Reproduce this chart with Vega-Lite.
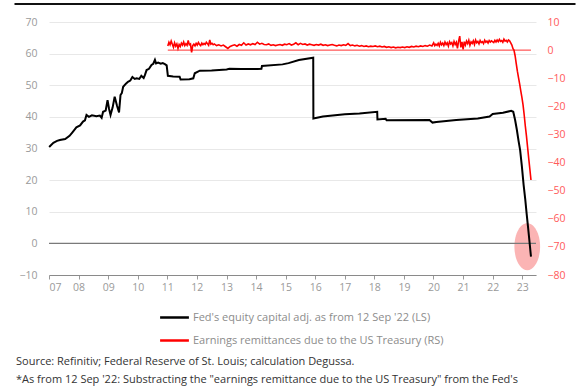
{
  "$schema": "https://vega.github.io/schema/vega-lite/v6.json",
  "width": 487,
  "height": 253,
  "autosize": {"type": "none"},
  "padding": {"left": 49, "top": 22, "right": 49, "bottom": 115},
  "background": "white",
  "config": {
    "view": {"stroke": null},
    "font": "Open Sans",
    "axis": {"labelFont": "Open Sans", "labelFontSize": 10.5},
    "legend": {"labelFont": "Open Sans"}
  },
  "title": {
    "text": ["Source: Refinitiv; Federal Reserve of St. Louis; calculation Degussa.", "*As from 12 Sep '22: Substracting the \"earnings remittance due to the US Treasury\" from the Fed's", "equity capital."],
    "orient": "bottom",
    "anchor": "start",
    "frame": "group",
    "dx": -33,
    "offset": 10,
    "font": "Open Sans",
    "fontSize": 11,
    "fontWeight": "normal",
    "color": "#333333",
    "lineHeight": 17.5
  },
  "datasets": {
    "black": [
      {"date": "2007-01-03", "value": 30.5}, {"date": "2007-02-24", "value": 31.8}, {"date": "2007-04-10", "value": 32.4}, {"date": "2007-05-15", "value": 32.7},
      {"date": "2007-07-20", "value": 33.0}, {"date": "2007-09-12", "value": 34.0}, {"date": "2007-10-20", "value": 35.2}, {"date": "2007-12-05", "value": 36.7},
      {"date": "2008-01-20", "value": 37.3}, {"date": "2008-02-25", "value": 38.5}, {"date": "2008-03-20", "value": 38.9}, {"date": "2008-04-08", "value": 40.6},
      {"date": "2008-05-08", "value": 40.0}, {"date": "2008-06-14", "value": 40.5}, {"date": "2008-08-08", "value": 40.2}, {"date": "2008-09-20", "value": 40.4},
      {"date": "2008-10-12", "value": 39.7}, {"date": "2008-10-30", "value": 41.6}, {"date": "2008-12-01", "value": 42.0}, {"date": "2008-12-24", "value": 45.3},
      {"date": "2009-01-12", "value": 42.5}, {"date": "2009-01-30", "value": 40.6}, {"date": "2009-02-25", "value": 43.0}, {"date": "2009-03-22", "value": 46.4},
      {"date": "2009-04-20", "value": 43.5}, {"date": "2009-05-15", "value": 41.4}, {"date": "2009-06-02", "value": 46.9}, {"date": "2009-06-18", "value": 47.5},
      {"date": "2009-07-05", "value": 49.5}, {"date": "2009-08-08", "value": 50.5}, {"date": "2009-09-02", "value": 51.1}, {"date": "2009-10-01", "value": 51.5},
      {"date": "2009-10-27", "value": 52.6}, {"date": "2009-11-25", "value": 52.0}, {"date": "2009-12-18", "value": 52.2}, {"date": "2010-01-20", "value": 52.0},
      {"date": "2010-02-14", "value": 53.0}, {"date": "2010-03-15", "value": 52.3}, {"date": "2010-03-30", "value": 53.2}, {"date": "2010-04-20", "value": 54.8},
      {"date": "2010-05-20", "value": 55.2}, {"date": "2010-06-20", "value": 56.4}, {"date": "2010-07-12", "value": 56.8}, {"date": "2010-08-01", "value": 58.0},
      {"date": "2010-08-15", "value": 56.9}, {"date": "2010-09-10", "value": 57.2}, {"date": "2010-10-12", "value": 56.8}, {"date": "2010-11-06", "value": 57.0},
      {"date": "2010-12-02", "value": 56.7}, {"date": "2010-12-24", "value": 56.3}, {"date": "2011-01-08", "value": 53.0}, {"date": "2011-03-14", "value": 52.8},
      {"date": "2011-06-02", "value": 52.7}, {"date": "2011-06-14", "value": 51.8}, {"date": "2011-10-01", "value": 51.9}, {"date": "2011-11-18", "value": 52.2},
      {"date": "2011-12-06", "value": 53.8}, {"date": "2012-02-06", "value": 54.6}, {"date": "2012-07-01", "value": 54.7}, {"date": "2013-01-02", "value": 55.0},
      {"date": "2013-02-06", "value": 55.2}, {"date": "2013-07-01", "value": 55.1}, {"date": "2014-01-20", "value": 55.1}, {"date": "2014-03-08", "value": 55.2},
      {"date": "2014-03-15", "value": 56.1}, {"date": "2014-11-24", "value": 56.6}, {"date": "2015-02-06", "value": 57.0}, {"date": "2015-06-14", "value": 58.0},
      {"date": "2015-12-08", "value": 58.7}, {"date": "2015-12-10", "value": 39.5}, {"date": "2016-04-05", "value": 40.1}, {"date": "2017-01-01", "value": 40.8},
      {"date": "2017-07-01", "value": 41.1}, {"date": "2018-02-05", "value": 41.6}, {"date": "2018-02-08", "value": 39.2}, {"date": "2018-05-20", "value": 39.4},
      {"date": "2018-06-01", "value": 38.9}, {"date": "2019-11-12", "value": 39.0}, {"date": "2019-12-20", "value": 38.2}, {"date": "2020-02-05", "value": 38.4},
      {"date": "2020-10-08", "value": 39.0}, {"date": "2021-07-01", "value": 39.5}, {"date": "2021-11-24", "value": 40.1}, {"date": "2022-01-01", "value": 40.9},
      {"date": "2022-05-08", "value": 41.3}, {"date": "2022-08-18", "value": 41.9}, {"date": "2022-09-12", "value": 41.6}, {"date": "2022-10-05", "value": 39.0},
      {"date": "2022-10-26", "value": 36.0}, {"date": "2022-11-16", "value": 32.5}, {"date": "2022-12-06", "value": 29.5}, {"date": "2022-12-27", "value": 24.5},
      {"date": "2023-01-18", "value": 18.5}, {"date": "2023-02-07", "value": 14.0}, {"date": "2023-02-24", "value": 9.5}, {"date": "2023-03-15", "value": 4.8},
      {"date": "2023-04-01", "value": 0.5}, {"date": "2023-04-19", "value": -4.2}
    ],
    "red": [
      {"date": "2011-01-07", "value": 1.5}, {"date": "2011-01-21", "value": 2.8}, {"date": "2011-02-04", "value": 1.9}, {"date": "2011-02-18", "value": 3.2},
      {"date": "2011-03-04", "value": 2.1}, {"date": "2011-03-18", "value": 1.0}, {"date": "2011-04-01", "value": 2.6}, {"date": "2011-04-15", "value": 1.4},
      {"date": "2011-04-29", "value": 2.2}, {"date": "2011-05-13", "value": 0.6}, {"date": "2011-05-27", "value": 2.0}, {"date": "2011-06-10", "value": 1.3},
      {"date": "2011-06-24", "value": 2.5}, {"date": "2011-07-08", "value": 1.8}, {"date": "2011-07-22", "value": 2.9}, {"date": "2011-08-05", "value": 1.6},
      {"date": "2011-08-19", "value": 2.3}, {"date": "2011-09-02", "value": 1.7}, {"date": "2011-09-16", "value": 3.4}, {"date": "2011-09-30", "value": 1.9},
      {"date": "2011-10-14", "value": 2.2}, {"date": "2011-10-28", "value": -0.8}, {"date": "2011-11-11", "value": 1.6}, {"date": "2011-11-25", "value": 2.1},
      {"date": "2011-12-09", "value": 1.5}, {"date": "2011-12-23", "value": 2.4},
      {"date": "2012-01-06", "value": 1.8}, {"date": "2012-01-20", "value": 2.7}, {"date": "2012-02-03", "value": 2.0}, {"date": "2012-02-17", "value": 1.6},
      {"date": "2012-03-02", "value": 2.5}, {"date": "2012-03-16", "value": 1.9}, {"date": "2012-03-30", "value": 2.4}, {"date": "2012-04-13", "value": 2.0},
      {"date": "2012-04-27", "value": 2.8}, {"date": "2012-05-11", "value": 2.3}, {"date": "2012-05-25", "value": 1.7}, {"date": "2012-06-08", "value": 3.6},
      {"date": "2012-06-22", "value": 2.1}, {"date": "2012-07-06", "value": 2.4}, {"date": "2012-07-20", "value": 1.9}, {"date": "2012-08-03", "value": 2.2},
      {"date": "2012-08-31", "value": 1.6}, {"date": "2012-09-28", "value": 1.9}, {"date": "2012-10-26", "value": 1.5}, {"date": "2012-11-23", "value": 1.8},
      {"date": "2012-12-21", "value": 1.2},
      {"date": "2013-01-18", "value": 0.6}, {"date": "2013-02-15", "value": 1.3}, {"date": "2013-03-15", "value": 1.6}, {"date": "2013-04-12", "value": 1.9},
      {"date": "2013-05-10", "value": 1.4}, {"date": "2013-06-07", "value": 2.0}, {"date": "2013-07-05", "value": 1.7}, {"date": "2013-08-02", "value": 2.6},
      {"date": "2013-08-30", "value": 1.8}, {"date": "2013-09-27", "value": 2.2}, {"date": "2013-10-25", "value": 1.9}, {"date": "2013-11-22", "value": 2.3},
      {"date": "2013-12-20", "value": 2.0},
      {"date": "2014-01-17", "value": 2.8}, {"date": "2014-02-14", "value": 2.1}, {"date": "2014-03-14", "value": 2.4}, {"date": "2014-04-11", "value": 2.0},
      {"date": "2014-05-09", "value": 1.9}, {"date": "2014-06-06", "value": 2.2}, {"date": "2014-07-04", "value": 1.7}, {"date": "2014-08-01", "value": 1.9},
      {"date": "2014-08-29", "value": 1.6}, {"date": "2014-09-26", "value": 1.8}, {"date": "2014-10-24", "value": 2.0}, {"date": "2014-11-21", "value": 1.7},
      {"date": "2014-12-19", "value": 2.1},
      {"date": "2015-01-16", "value": 1.9}, {"date": "2015-02-13", "value": 2.3}, {"date": "2015-03-13", "value": 1.8}, {"date": "2015-04-10", "value": 2.1},
      {"date": "2015-05-08", "value": 2.6}, {"date": "2015-06-05", "value": 1.9}, {"date": "2015-07-03", "value": 2.4}, {"date": "2015-07-31", "value": 2.0},
      {"date": "2015-08-28", "value": 2.2}, {"date": "2015-09-25", "value": 1.8}, {"date": "2015-10-23", "value": 2.1}, {"date": "2015-11-20", "value": 1.9},
      {"date": "2015-12-18", "value": 1.7},
      {"date": "2016-01-15", "value": 2.0}, {"date": "2016-02-12", "value": 1.8}, {"date": "2016-03-11", "value": 2.1}, {"date": "2016-04-08", "value": 1.7},
      {"date": "2016-05-06", "value": 1.9}, {"date": "2016-06-03", "value": 1.6}, {"date": "2016-07-01", "value": 1.8}, {"date": "2016-07-29", "value": 2.0},
      {"date": "2016-08-26", "value": 1.7}, {"date": "2016-09-23", "value": 1.5}, {"date": "2016-10-21", "value": 1.8}, {"date": "2016-11-18", "value": 1.6},
      {"date": "2016-12-16", "value": 1.9},
      {"date": "2017-01-13", "value": 1.7}, {"date": "2017-02-10", "value": 2.3}, {"date": "2017-03-10", "value": 1.6}, {"date": "2017-04-07", "value": 1.8},
      {"date": "2017-05-05", "value": 1.5}, {"date": "2017-06-02", "value": 1.7}, {"date": "2017-06-30", "value": 1.4}, {"date": "2017-07-28", "value": 1.6},
      {"date": "2017-08-25", "value": 1.3}, {"date": "2017-09-22", "value": 1.5}, {"date": "2017-10-20", "value": 1.2}, {"date": "2017-11-17", "value": 1.4},
      {"date": "2017-12-15", "value": 1.3},
      {"date": "2018-01-12", "value": 1.5}, {"date": "2018-02-09", "value": 1.2}, {"date": "2018-03-09", "value": 1.4}, {"date": "2018-04-06", "value": 1.1},
      {"date": "2018-05-04", "value": 1.3}, {"date": "2018-06-01", "value": 1.0}, {"date": "2018-06-29", "value": 1.2}, {"date": "2018-07-27", "value": 0.9},
      {"date": "2018-08-24", "value": 1.1}, {"date": "2018-09-21", "value": 0.8}, {"date": "2018-10-19", "value": 1.0}, {"date": "2018-11-16", "value": 0.9},
      {"date": "2018-12-14", "value": 1.1},
      {"date": "2019-01-11", "value": 0.9}, {"date": "2019-02-08", "value": 1.2}, {"date": "2019-03-08", "value": 1.0}, {"date": "2019-04-05", "value": 1.3},
      {"date": "2019-05-03", "value": 1.1}, {"date": "2019-05-31", "value": 1.4}, {"date": "2019-06-28", "value": 1.2}, {"date": "2019-07-26", "value": 1.5},
      {"date": "2019-08-23", "value": 1.3}, {"date": "2019-09-20", "value": 1.6}, {"date": "2019-10-18", "value": 1.4}, {"date": "2019-11-15", "value": 1.8},
      {"date": "2019-12-13", "value": 1.5},
      {"date": "2020-01-03", "value": 2.6}, {"date": "2020-01-17", "value": 1.6}, {"date": "2020-01-31", "value": 2.1}, {"date": "2020-02-14", "value": 1.7},
      {"date": "2020-02-28", "value": 2.4}, {"date": "2020-03-13", "value": 1.5}, {"date": "2020-03-27", "value": 2.8}, {"date": "2020-04-10", "value": 1.9},
      {"date": "2020-04-24", "value": 2.5}, {"date": "2020-05-08", "value": 1.6}, {"date": "2020-05-22", "value": 2.9}, {"date": "2020-06-05", "value": 2.0},
      {"date": "2020-06-19", "value": 2.6}, {"date": "2020-07-03", "value": 1.4}, {"date": "2020-07-17", "value": 3.0}, {"date": "2020-07-31", "value": 2.2},
      {"date": "2020-08-14", "value": 2.7}, {"date": "2020-08-28", "value": 1.5}, {"date": "2020-09-11", "value": 3.1}, {"date": "2020-09-25", "value": 2.0},
      {"date": "2020-10-09", "value": 2.8}, {"date": "2020-10-23", "value": 0.6}, {"date": "2020-11-06", "value": 3.2}, {"date": "2020-11-20", "value": 5.0},
      {"date": "2020-12-04", "value": 1.0}, {"date": "2020-12-18", "value": 2.9},
      {"date": "2021-01-01", "value": 0.3}, {"date": "2021-01-15", "value": 3.0}, {"date": "2021-01-29", "value": 1.8}, {"date": "2021-02-12", "value": 3.2},
      {"date": "2021-02-26", "value": 2.3}, {"date": "2021-03-12", "value": 3.5}, {"date": "2021-03-26", "value": 1.7}, {"date": "2021-04-09", "value": 2.9},
      {"date": "2021-04-23", "value": 2.4}, {"date": "2021-05-07", "value": 3.3}, {"date": "2021-05-21", "value": 2.0}, {"date": "2021-06-04", "value": 3.6},
      {"date": "2021-06-18", "value": 2.6}, {"date": "2021-07-02", "value": 3.1}, {"date": "2021-07-16", "value": 2.2}, {"date": "2021-07-30", "value": 3.4},
      {"date": "2021-08-13", "value": 2.7}, {"date": "2021-08-27", "value": 3.0}, {"date": "2021-09-10", "value": 2.3}, {"date": "2021-09-24", "value": 3.5},
      {"date": "2021-10-08", "value": 2.8}, {"date": "2021-10-22", "value": 3.2}, {"date": "2021-11-05", "value": 2.5}, {"date": "2021-11-19", "value": 3.4},
      {"date": "2021-12-03", "value": 2.9}, {"date": "2021-12-17", "value": 3.3},
      {"date": "2022-01-14", "value": 2.7}, {"date": "2022-01-28", "value": 3.5}, {"date": "2022-02-11", "value": 2.9}, {"date": "2022-02-25", "value": 3.6},
      {"date": "2022-03-11", "value": 3.0}, {"date": "2022-03-25", "value": 3.8}, {"date": "2022-04-08", "value": 3.1}, {"date": "2022-04-22", "value": 3.4},
      {"date": "2022-05-06", "value": 2.8}, {"date": "2022-05-20", "value": 3.9}, {"date": "2022-06-03", "value": 3.2}, {"date": "2022-06-17", "value": 3.5},
      {"date": "2022-07-01", "value": 2.9}, {"date": "2022-07-15", "value": 3.6}, {"date": "2022-07-29", "value": 3.3}, {"date": "2022-08-12", "value": 2.6},
      {"date": "2022-08-26", "value": 1.8}, {"date": "2022-09-09", "value": 0.5}, {"date": "2022-09-21", "value": 0.0}, {"date": "2022-10-05", "value": -2.0},
      {"date": "2022-10-19", "value": -4.8}, {"date": "2022-11-02", "value": -7.5}, {"date": "2022-11-16", "value": -9.8}, {"date": "2022-11-30", "value": -12.0},
      {"date": "2022-12-14", "value": -14.5}, {"date": "2022-12-28", "value": -16.8}, {"date": "2023-01-11", "value": -19.5}, {"date": "2023-01-25", "value": -23.0},
      {"date": "2023-02-08", "value": -27.0}, {"date": "2023-02-22", "value": -30.5}, {"date": "2023-03-08", "value": -34.5}, {"date": "2023-03-22", "value": -38.5},
      {"date": "2023-04-05", "value": -42.3}, {"date": "2023-04-19", "value": -46.2}
    ],
    "highlight": [{"date": "2023-03-04", "value": -1.05}]
  },
  "layer": [
    {
      "layer": [
        {
          "data": {"name": "highlight"},
          "mark": {"type": "point", "filled": true, "shape": "M -0.547 0 A 0.547 1 0 1 0 0.547 0 A 0.547 1 0 1 0 -0.547 0 Z", "size": 2209, "fill": "#fbb4b4", "opacity": 1, "strokeWidth": 0},
          "encoding": {
            "x": {"field": "date", "type": "temporal", "scale": {"domain": [{"year": 2007, "month": 1, "date": 1}, {"year": 2023, "month": 6, "date": 20}]}, "axis": {"format": "%y", "tickCount": {"interval": "year", "step": 1}, "title": null, "grid": false, "labelColor": "#9a9a9a", "tickColor": "#999999", "domainColor": "#8a8a8a", "tickSize": 4, "labelPadding": 3, "labelFontSize": 10.5, "labelOverlap": false}},
            "y": {"field": "value", "type": "quantitative", "scale": {"domain": [-10, 70]}, "axis": {"orient": "left", "values": [-10, 0, 10, 20, 30, 40, 50, 60, 70], "tickCount": 9, "title": null, "grid": true, "gridColor": "#e8e8e8", "domain": false, "ticks": false, "labelColor": "#9a9a9a", "labelPadding": 12, "labelFontSize": 10.5, "labelOverlap": false}}
          }
        },
        {
          "data": {"values": [{}]},
          "mark": {"type": "rule", "color": "#7a7a7a", "strokeWidth": 1.2},
          "encoding": {"y": {"datum": 0, "type": "quantitative", "axis": {"orient": "left", "values": [-10, 0, 10, 20, 30, 40, 50, 60, 70], "tickCount": 9, "title": null, "grid": true, "gridColor": "#e8e8e8", "domain": false, "ticks": false, "labelColor": "#9a9a9a", "labelPadding": 12, "labelFontSize": 10.5, "labelOverlap": false}}}
        },
        {
          "data": {"values": [{}]},
          "mark": {"type": "rule", "color": "#111111", "strokeWidth": 2},
          "encoding": {
            "y": {"datum": 75.7, "type": "quantitative"},
            "x": {"datum": {"year": 2005, "month": 11, "date": 1}, "type": "temporal"},
            "x2": {"datum": {"year": 2024, "month": 10, "date": 20}}
          }
        },
        {
          "data": {"name": "black"},
          "mark": {"type": "line", "strokeWidth": 2},
          "encoding": {
            "x": {"field": "date", "type": "temporal"},
            "y": {"field": "value", "type": "quantitative", "axis": {"orient": "left", "values": [-10, 0, 10, 20, 30, 40, 50, 60, 70], "tickCount": 9, "title": null, "grid": true, "gridColor": "#e8e8e8", "domain": false, "ticks": false, "labelColor": "#9a9a9a", "labelPadding": 12, "labelFontSize": 10.5, "labelOverlap": false}},
            "color": {
              "datum": "Fed's equity capital adj. as from 12 Sep '22 (LS)",
              "scale": {"domain": ["Fed's equity capital adj. as from 12 Sep '22 (LS)", "Earnings remittances due to the US Treasury (RS)"], "range": ["#000000", "#ff0000"]},
              "legend": {
                "orient": "none", "legendX": 120, "legendY": 290, "title": null, "padding": 0,
                "symbolType": "M -3.6 0 L 3.6 0", "symbolSize": 64, "symbolStrokeWidth": 2.5,
                "labelOffset": 13, "labelFontSize": 11, "labelFont": "Open Sans", "labelColor": "#8c8c8c", "rowPadding": 11, "labelLimit": 400
              }
            }
          }
        }
      ]
    },
    {
      "layer": [
        {
          "data": {"values": [{}]},
          "mark": {"type": "rule", "color": "#ff3030", "strokeWidth": 1},
          "encoding": {
            "y": {"datum": 0, "type": "quantitative", "scale": {"domain": [-80, 10]}, "axis": {"orient": "right", "values": [-80, -70, -60, -50, -40, -30, -20, -10, 0, 10], "tickCount": 10, "title": null, "grid": false, "domain": false, "ticks": false, "labelColor": "#ff5a5a", "labelPadding": 11, "labelFontSize": 10.5, "labelOverlap": false}},
            "x": {"datum": {"year": 2011, "month": 1, "date": 7}, "type": "temporal"},
            "x2": {"datum": {"year": 2023, "month": 4, "date": 19}}
          }
        },
        {
          "data": {"name": "red"},
          "mark": {"type": "line", "strokeWidth": 1.6},
          "encoding": {
            "x": {"field": "date", "type": "temporal"},
            "y": {"field": "value", "type": "quantitative", "axis": {"orient": "right", "values": [-80, -70, -60, -50, -40, -30, -20, -10, 0, 10], "tickCount": 10, "title": null, "grid": false, "domain": false, "ticks": false, "labelColor": "#ff5a5a", "labelPadding": 11, "labelFontSize": 10.5, "labelOverlap": false}},
            "color": {"datum": "Earnings remittances due to the US Treasury (RS)"}
          }
        }
      ]
    }
  ],
  "resolve": {"scale": {"y": "independent"}}
}
